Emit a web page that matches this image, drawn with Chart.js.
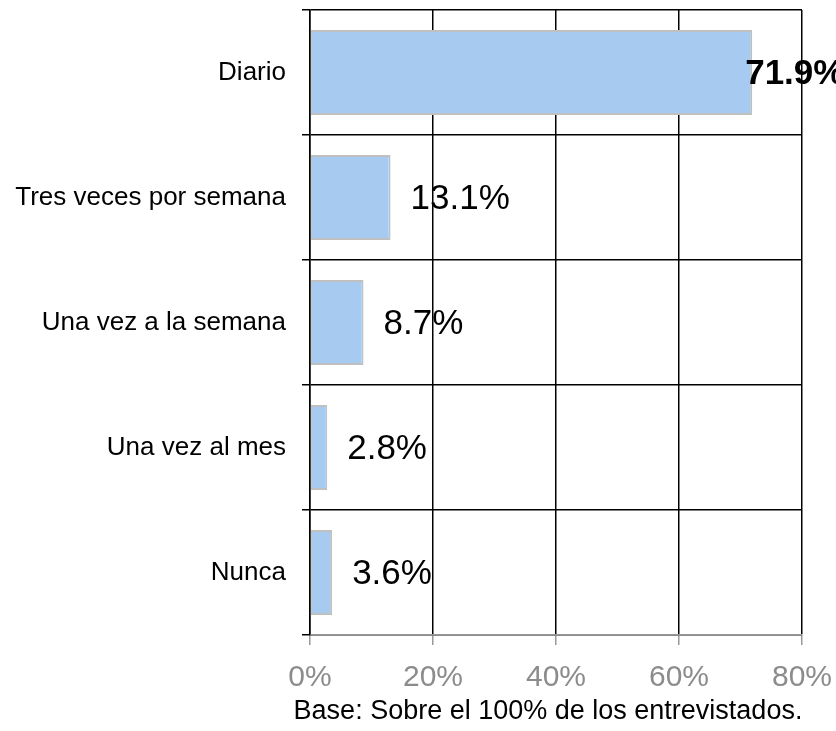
<!DOCTYPE html>
<html>
<head>
<meta charset="utf-8">
<script src="https://cdn.jsdelivr.net/npm/chart.js@4"></script>
<style>
  html, body { margin: 0; padding: 0; background: #fff; }
  #wrap { width: 836px; height: 731px; }
</style>
</head>
<body>
<div id="wrap"><canvas id="freqChart"></canvas></div>
<script>
const categories = ['Diario', 'Tres veces por semana', 'Una vez a la semana', 'Una vez al mes', 'Nunca'];
const percentages = [71.9, 13.1, 8.7, 2.8, 3.6];
const xTicks = [0, 20, 40, 60, 80];
const baseNote = 'Base: Sobre el 100% de los entrevistados.';

const FONT = "'Liberation Sans', Arial, sans-serif";

// etiquetas de valor al final de cada barra + nota de base
const valueLabels = {
    id: 'valueLabels',
    afterDatasetsDraw(chart) {
        const c = chart.ctx;
        const meta = chart.getDatasetMeta(0);
        c.save();
        c.fillStyle = '#000';
        c.textBaseline = 'middle';
        c.textAlign = 'left';
        meta.data.forEach((bar, i) => {
            const txt = percentages[i].toFixed(1) + '%';
            if (i === 0) {
                c.font = 'bold 35px ' + FONT;
                c.fillText(txt, bar.x - 7, bar.y + 2);
            } else {
                c.font = '35px ' + FONT;
                c.fillText(txt, bar.x + 20, bar.y + 2);
            }
        });
        c.restore();
    },
    afterDraw(chart) {
        const c = chart.ctx;
        const area = chart.chartArea;
        c.save();
        c.fillStyle = '#000';
        c.font = '27px ' + FONT;
        c.textAlign = 'center';
        c.textBaseline = 'middle';
        c.fillText(baseNote, (area.left + area.right) / 2 - 8, 712);
        c.restore();
    }
};

new Chart(document.getElementById('freqChart'), {
    type: 'bar',
    data: {
        labels: categories,
        datasets: [{
            data: percentages,
            backgroundColor: '#a6caf0',
            borderColor: '#c0c0c0',
            borderWidth: 2,
            borderSkipped: 'left',
            barPercentage: 0.68,
            categoryPercentage: 1
        }]
    },
    options: {
        indexAxis: 'y',
        responsive: true,
        maintainAspectRatio: false,
        animation: false,
        layout: { padding: { top: 10, right: 34, left: 0, bottom: 0 } },
        plugins: {
            legend: { display: false },
            tooltip: { enabled: false }
        },
        scales: {
            x: {
                min: 0,
                max: 80,
                afterBuildTicks: scale => { scale.ticks = xTicks.map(v => ({ value: v })); },
                afterFit: scale => {
                    scale.height = 96;
                    scale.paddingLeft = 0;
                    scale.paddingRight = 0;
                },
                grid: { color: '#000', lineWidth: 1.5, tickColor: '#999', tickLength: 10 },
                border: { color: '#999', width: 1.5 },
                ticks: {
                    color: '#8c8c8c',
                    padding: 15,
                    font: { family: FONT, size: 30 },
                    callback: v => v + '%'
                }
            },
            y: {
                afterFit: scale => {
                    scale.width = 310;
                    scale.paddingTop = 0;
                    scale.paddingBottom = 0;
                },
                grid: {
                    offset: true,
                    color: ctx => ctx.index === categories.length ? 'rgba(0,0,0,0)' : '#000',
                    tickColor: '#000',
                    lineWidth: 1.5,
                    tickLength: 8
                },
                border: { color: '#000', width: 1.5 },
                ticks: {
                    color: '#000',
                    padding: 16,
                    font: { family: FONT, size: 26 }
                }
            }
        }
    },
    plugins: [valueLabels]
});
</script>
</body>
</html>
